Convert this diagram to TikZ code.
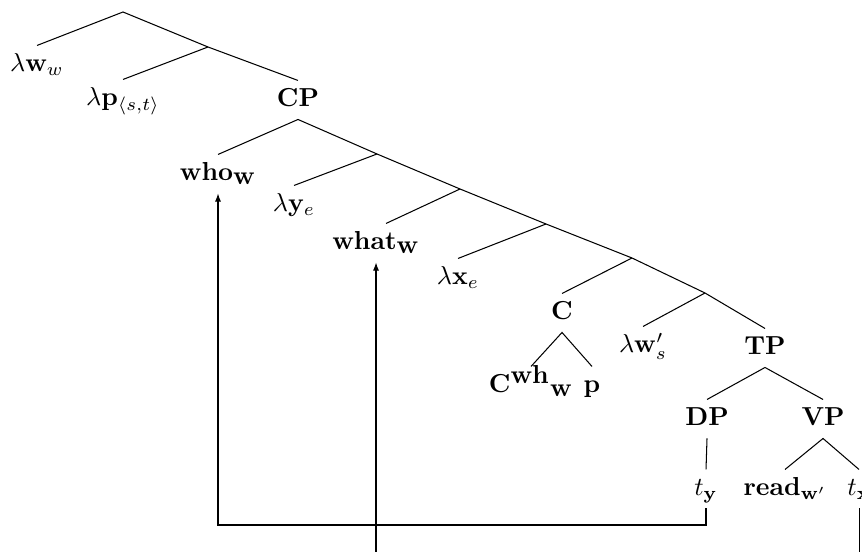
\documentclass[tikz,border=0pt]{standalone}
\usetikzlibrary{arrows.meta}
\begin{document}
\begin{tikzpicture}[x=0.3846pt,y=-0.3846pt,
  lbl/.style={anchor=base,inner sep=0pt,text height=10pt,text depth=4.6pt},
  edge/.style={line width=0.4pt},
  mv/.style={line width=0.4pt,-{Latex[length=3.1pt,width=2.3pt]}}]
\clip (0,0) rectangle (862,552);
% junctions
\coordinate (J0) at (123,12);
\coordinate (J1) at (208,47);
\coordinate (J3) at (377,154);
\coordinate (J4) at (460,189);
\coordinate (J5) at (546,224);
\coordinate (J6) at (632,258);
\coordinate (J7) at (705,293);
\coordinate (b1) at (0,525);
\coordinate (b2) at (0,575);
% nodes
\node[lbl] (lw) at (37,72) {$\lambda\mathbf{w}_w$};
\node[lbl] (lp) at (123,106) {$\lambda\mathbf{p}_{\langle s,t\rangle}$};
\node[lbl] (CP) at (298,107) {\textbf{CP}};
\node[lbl] (who) at (218,181) {\textbf{who}$_{\textbf{w}}$};
\node[lbl] (ly) at (294,212) {$\lambda\mathbf{y}_e$};
\node[lbl] (what) at (376,250) {\textbf{what}$_{\textbf{w}}$};
\node[lbl] (lx) at (458,285) {$\lambda\mathbf{x}_e$};
\node[lbl] (C) at (562,320) {\textbf{C}};
\node[lbl] (Cwh) at (531,393) {\textbf{C}$^{\textbf{wh}}{}_{\textbf{w}}$};
\node[lbl] (p) at (592,393) {\textbf{p}};
\node[lbl] (lws) at (643,353) {$\lambda\mathbf{w}'_s$};
\node[lbl] (TP) at (765,355) {\textbf{TP}};
\node[lbl] (DP) at (707,426) {\textbf{DP}};
\node[lbl] (VP) at (823,426) {\textbf{VP}};
\node[lbl] (ty) at (706,496) {$t_{\mathbf{y}}$};
\node[lbl] (read) at (785,496) {\textbf{read}$_{\mathbf{w}'}$};
\node[lbl] (tx) at (859,496) {$t_{\mathbf{x}}$};
% tree edges
\draw[edge] (lw.north) -- (J0) -- (J1) -- (CP.north);
\draw[edge] (J1) -- (lp.north);
\draw[edge] (who.north) -- (CP.south) -- (J3) -- (J4) -- (J5) -- (J6) -- (J7) -- (TP.north);
\draw[edge] (J3) -- (ly.north);
\draw[edge] (J4) -- ([xshift=3.85pt]what.north);
\draw[edge] (J5) -- (lx.north);
\draw[edge] (J6) -- (C.north);
\draw[edge] (J7) -- (lws.north);
\draw[edge] (Cwh.north) -- (C.south) -- (p.north);
\draw[edge] (DP.north) -- (TP.south) -- (VP.north);
\draw[edge] (DP.south) -- (ty.north);
\draw[edge] (read.north) -- (VP.south) -- (tx.north);
% movement arrows
\draw[mv] (ty.south) -- (ty.south |- b1) -| (who.south);
\draw[mv] (tx.south) -- (tx.south |- b2) -| (what.south);
\end{tikzpicture}
\end{document}
